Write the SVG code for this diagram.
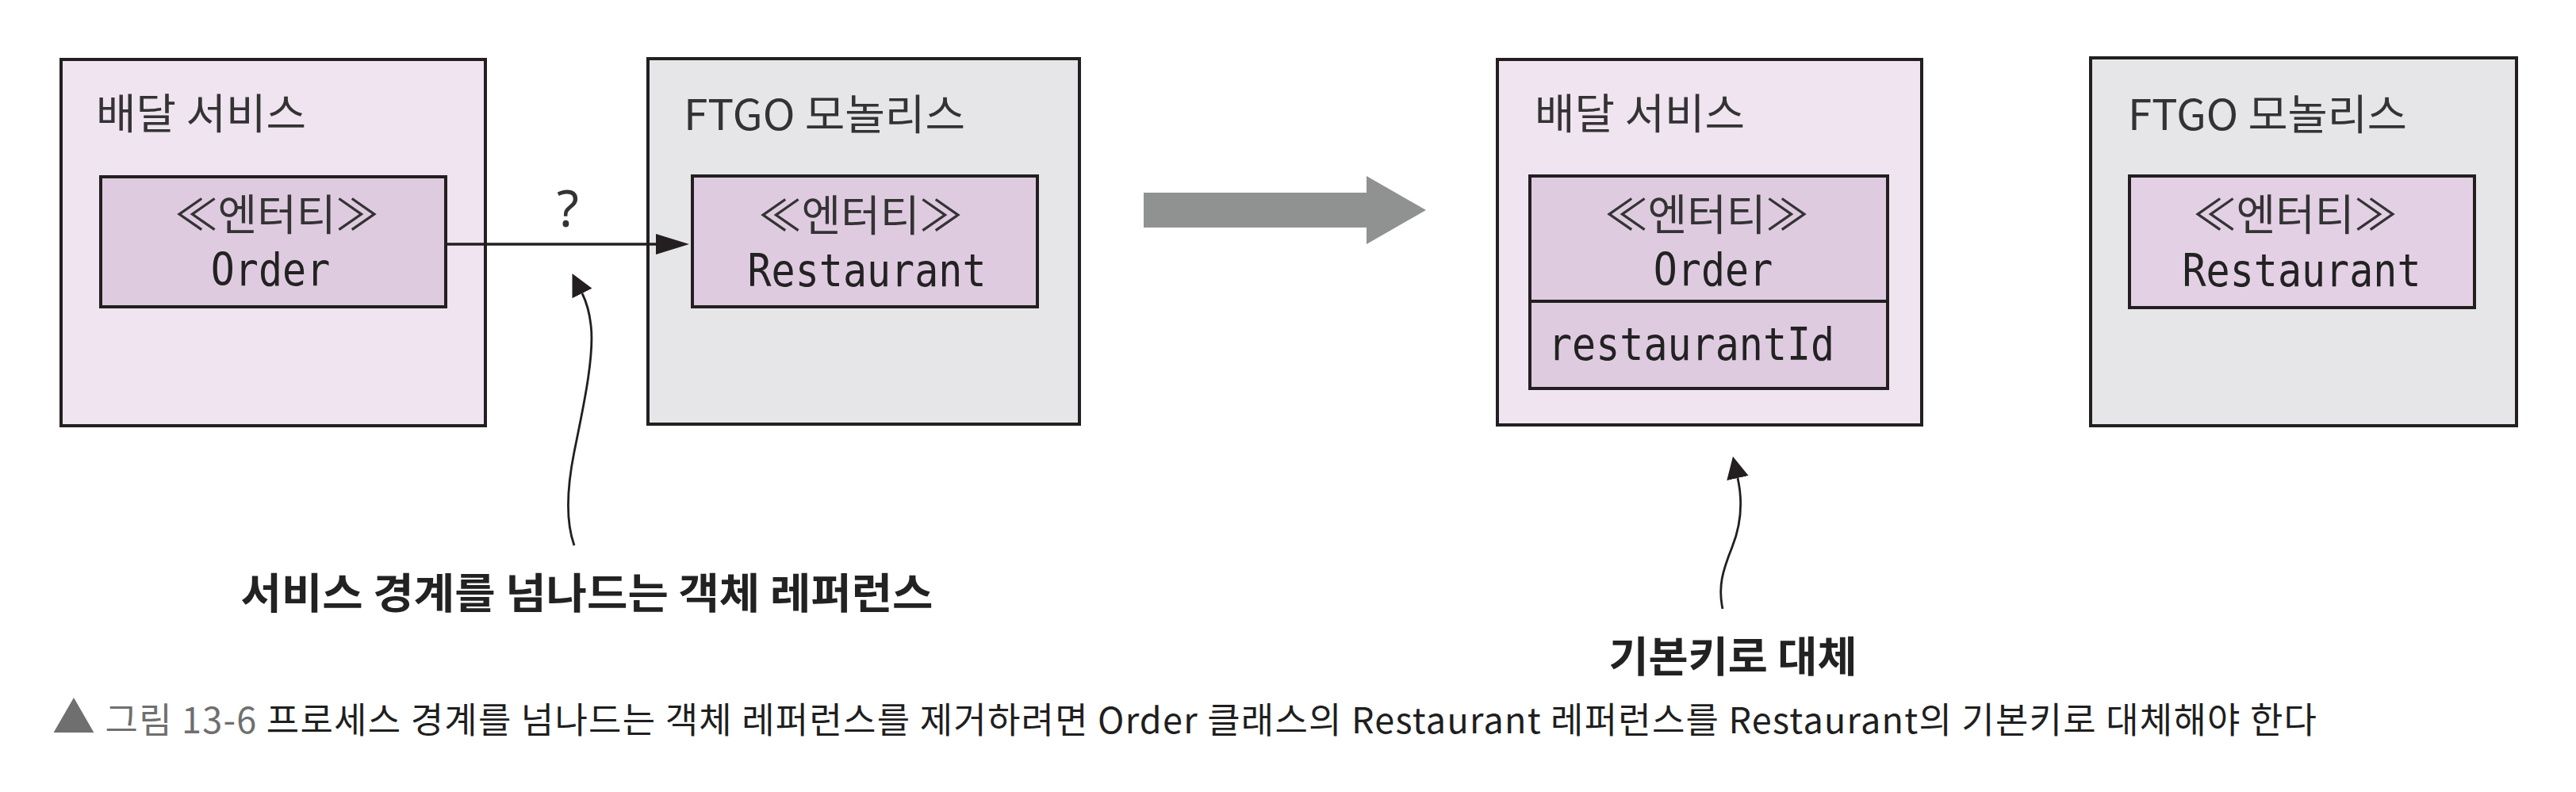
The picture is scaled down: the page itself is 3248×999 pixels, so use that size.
<svg xmlns="http://www.w3.org/2000/svg" width="3248" height="999" viewBox="0 0 3248 999">
  <defs>
    <style>
      .op { fill:#efe4f0; stroke:#231f20; stroke-width:4; }
      .og { fill:#e6e6e8; stroke:#231f20; stroke-width:4; }
      .ent { fill:#dfcbe0; stroke:#231f20; stroke-width:4; }
      .title { font-family:"Noto Sans CJK KR","Noto Sans",sans-serif; font-size:53px; fill:#333; }
      .stereo { font-family:"Noto Sans CJK KR","Noto Sans",sans-serif; font-size:54px; fill:#333; text-anchor:middle; }
      .mono { font-family:"DejaVu Sans Mono","Liberation Mono",monospace; font-size:50px; fill:#222; }
      .label { font-family:"Noto Sans CJK KR","Noto Sans",sans-serif; font-size:53px; font-weight:bold; fill:#222; text-anchor:middle; }
      .cap { font-family:"Noto Sans CJK KR","Noto Sans",sans-serif; font-size:45px; fill:#1f1f1f; }
      .line { fill:none; stroke:#231f20; stroke-width:3.5; }
      .curve { fill:none; stroke:#231f20; stroke-width:2.8; }
    </style>
    <marker id="headLong" markerUnits="userSpaceOnUse" markerWidth="44" markerHeight="26" refX="0" refY="13" orient="auto">
      <path d="M0,0 L42,13 L0,26 z" fill="#231f20"/>
    </marker>
    <marker id="headShort" markerUnits="userSpaceOnUse" markerWidth="30" markerHeight="30" refX="0" refY="14" orient="auto">
      <path d="M0,0 L28,14 L0,28 z" fill="#231f20"/>
    </marker>
  </defs>
  <rect width="3248" height="999" fill="#ffffff"/>

  <g id="delivery-service-before">
    <rect class="op" x="77" y="75" width="535" height="462"/>
    <text class="title" x="121" y="163" textLength="265" lengthAdjust="spacingAndGlyphs">배달 서비스</text>
  </g>
  <g id="order-entity-before">
    <rect class="ent" x="127" y="223" width="435" height="164"/>
    <text class="stereo" x="349" y="291">≪엔터티≫</text>
    <text class="mono" text-anchor="middle" transform="translate(341,360) scale(1,1.15)">Order</text>
  </g>

  <g id="ftgo-monolith-before">
    <rect class="og" x="817" y="74" width="544" height="461"/>
    <text class="title" x="862" y="164" textLength="355" lengthAdjust="spacingAndGlyphs">FTGO 모놀리스</text>
  </g>
  <g id="restaurant-entity-before">
    <rect class="ent" x="873" y="222" width="435" height="165"/>
    <text class="stereo" x="1085" y="292">≪엔터티≫</text>
    <text class="mono" text-anchor="middle" transform="translate(1093,361) scale(1,1.15)">Restaurant</text>
  </g>

  <g id="transform-arrow">
    <polygon points="1442,243 1723,243 1723,222 1798,265 1723,308 1723,287 1442,287" fill="#909191"/>
  </g>

  <g id="delivery-service-after">
    <rect class="op" x="1888" y="75" width="535" height="461"/>
    <text class="title" x="1935" y="163" textLength="265" lengthAdjust="spacingAndGlyphs">배달 서비스</text>
  </g>
  <g id="order-entity-after">
    <rect class="ent" x="1929" y="222" width="451" height="268"/>
    <line x1="1929" y1="380" x2="2380" y2="380" stroke="#231f20" stroke-width="4"/>
    <text class="stereo" x="2152" y="291">≪엔터티≫</text>
    <text class="mono" text-anchor="middle" transform="translate(2160,360) scale(1,1.15)">Order</text>
    <text class="mono" transform="translate(1952,454) scale(1,1.15)">restaurantId</text>
  </g>

  <g id="ftgo-monolith-after">
    <rect class="og" x="2636" y="73" width="537" height="464"/>
    <text class="title" x="2683" y="164" textLength="352" lengthAdjust="spacingAndGlyphs">FTGO 모놀리스</text>
  </g>
  <g id="restaurant-entity-after">
    <rect class="ent" x="2685" y="222" width="435" height="166" style="fill:#e3d0e4"/>
    <text class="stereo" x="2894" y="291">≪엔터티≫</text>
    <text class="mono" text-anchor="middle" transform="translate(2902,361) scale(1,1.15)">Restaurant</text>
  </g>

  <g id="connectors">
    <line class="line" x1="564" y1="308" x2="827" y2="308" marker-end="url(#headLong)"/>
    <text x="716" y="286" text-anchor="middle" style="font-family:'Noto Sans','DejaVu Sans',sans-serif;font-size:64px;fill:#333">?</text>
    <path class="curve" d="M 724 688 C 714 660, 714 620, 724 570 C 734 520, 750 450, 745 410 C 743 392, 739 380, 734 370" marker-end="url(#headShort)"/>
    <path class="curve" d="M 2172 768 C 2166 740, 2172 720, 2184 690 C 2196 660, 2197 630, 2191 603" marker-end="url(#headShort)"/>
  </g>

  <g id="annotations">
    <text class="label" x="740" y="768" textLength="873" lengthAdjust="spacingAndGlyphs">서비스 경계를 넘나드는 객체 레퍼런스</text>
    <text class="label" x="2185" y="848" textLength="313" lengthAdjust="spacingAndGlyphs">기본키로 대체</text>
  </g>

  <g id="caption">
    <text class="cap" x="66" y="925" textLength="2855" lengthAdjust="spacing"><tspan fill="#6f6f6f" font-size="54">▲</tspan><tspan fill="#6f6f6f"> 그림 13-6</tspan> 프로세스 경계를 넘나드는 객체 레퍼런스를 제거하려면 Order 클래스의 Restaurant 레퍼런스를 Restaurant의 기본키로 대체해야 한다</text>
  </g>
</svg>
